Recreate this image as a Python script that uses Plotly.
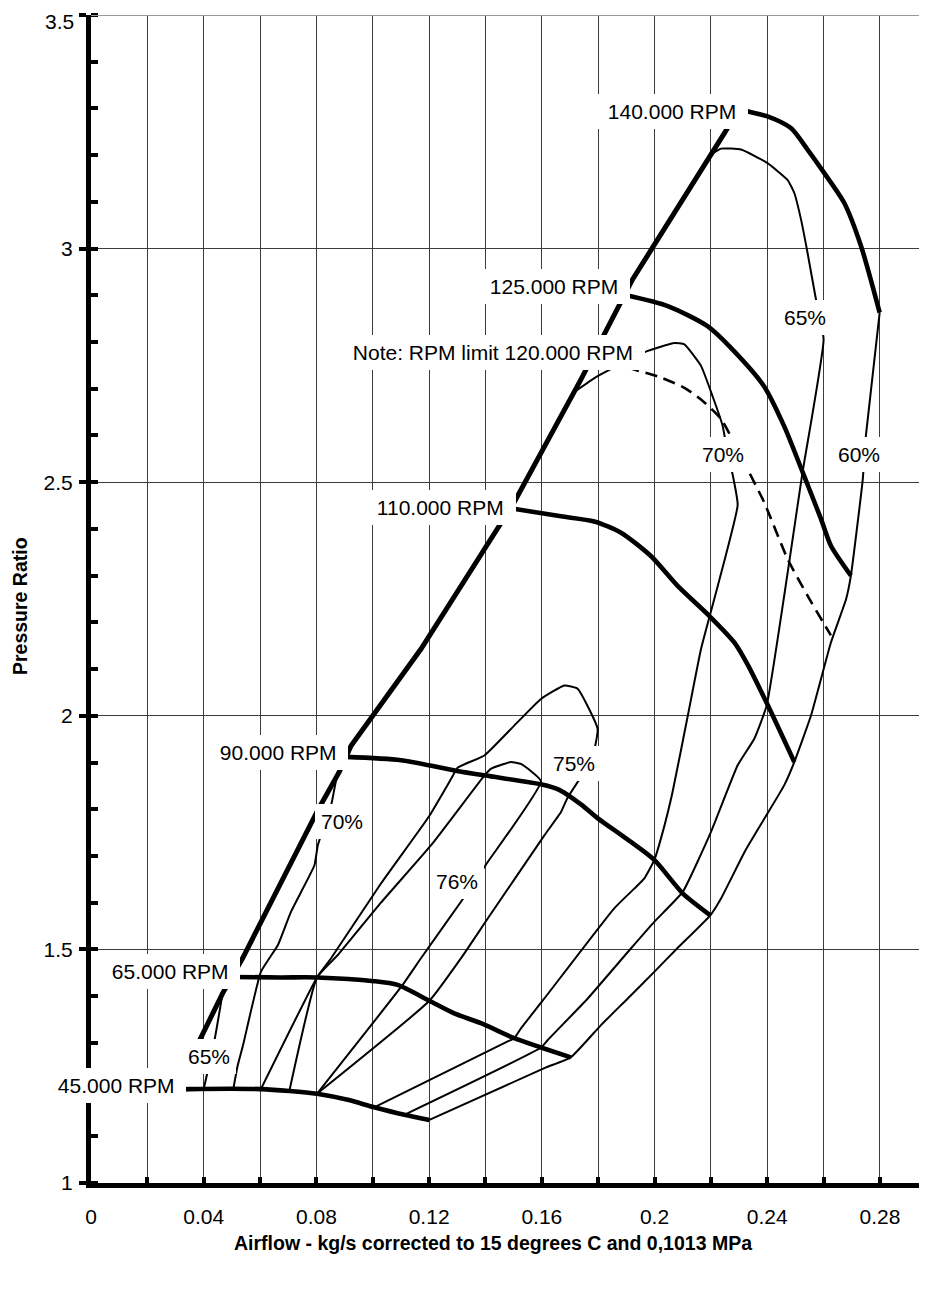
import plotly.graph_objects as go

# ---------------- data ----------------
# Speed lines (thick)
n45_x = [0.030, 0.0349, 0.0603, 0.0704, 0.0802, 0.0911, 0.1005, 0.1112, 0.1201]
n45_y = [1.200, 1.201, 1.201, 1.197, 1.191, 1.178, 1.162, 1.146, 1.135]

n65_x = [0.050, 0.0674, 0.0802, 0.1005, 0.1088, 0.1201, 0.1289, 0.1384, 0.1502, 0.1597, 0.1703]
n65_y = [1.441, 1.440, 1.440, 1.432, 1.424, 1.390, 1.363, 1.342, 1.310, 1.290, 1.269]

n90_x = [0.0905, 0.110, 0.130, 0.140, 0.160, 0.166, 0.174, 0.180, 0.190, 0.200, 0.210, 0.2198]
n90_y = [1.912, 1.905, 1.882, 1.872, 1.853, 1.842, 1.810, 1.780, 1.737, 1.691, 1.620, 1.573]

n110_x = [0.150, 0.1668, 0.1786, 0.1881, 0.1987, 0.2082, 0.2194, 0.2283, 0.233, 0.240, 0.2496]
n110_y = [2.443, 2.427, 2.416, 2.392, 2.342, 2.278, 2.214, 2.157, 2.110, 2.025, 1.901]

n125_x = [0.190, 0.2047, 0.2188, 0.2283, 0.2389, 0.246, 0.2526, 0.2591, 0.2626, 0.2697]
n125_y = [2.900, 2.877, 2.834, 2.780, 2.705, 2.620, 2.521, 2.421, 2.364, 2.300]

n140_x = [0.230, 0.2336, 0.2401, 0.2484, 0.2543, 0.2602, 0.2673, 0.2733, 0.2799]
n140_y = [3.300, 3.293, 3.283, 3.258, 3.212, 3.162, 3.098, 3.005, 2.863]

# RPM limit line (dashed)
lim120_x = [0.1775, 0.1798, 0.1869, 0.1928, 0.2023, 0.2106, 0.2165, 0.2236, 0.2318, 0.2389, 0.2472, 0.2543, 0.2626]
lim120_y = [2.770, 2.766, 2.752, 2.741, 2.724, 2.702, 2.677, 2.635, 2.542, 2.457, 2.336, 2.257, 2.172]

# Surge line (thick)
surge_x = [0.030, 0.039, 0.0467, 0.0538, 0.0805, 0.0881, 0.0923, 0.1171, 0.1372, 0.150,
           0.1739, 0.1922, 0.2248, 0.230]
surge_y = [1.20, 1.31, 1.406, 1.481, 1.798, 1.88, 1.936, 2.143, 2.335, 2.455,
           2.72, 2.934, 3.247, 3.30]

# Efficiency contours (thin); None separates pieces that run along the surge line
eff76_x = [0.0704, 0.0802, 0.0876, 0.1029, 0.1207, 0.1396, 0.142, 0.149, 0.1526, 0.1597,
           0.1408, 0.1313, 0.1171, 0.1106, 0.0802]
eff76_y = [1.197, 1.440, 1.488, 1.600, 1.723, 1.872, 1.887, 1.901, 1.897, 1.860,
           1.687, 1.602, 1.481, 1.424, 1.191]

eff75_x = [0.0603, 0.0802, 0.0852, 0.1029, 0.120, 0.1278, 0.1301, 0.1396, 0.1502, 0.1597, 0.168,
           0.1727, 0.1798, 0.1775, 0.1727, 0.169, 0.1668, 0.1609, 0.1408, 0.1313, 0.1201, 0.0802]
eff75_y = [1.201, 1.440, 1.481, 1.641, 1.785, 1.865, 1.889, 1.915, 1.979, 2.036, 2.065,
           2.058, 1.972, 1.900, 1.858, 1.823, 1.794, 1.744, 1.566, 1.481, 1.390, 1.191]

eff70_x = [0.0505, 0.052, 0.054, 0.0603, 0.0663, 0.071, 0.0793, 0.0805, 0.0852, 0.0875, None,
           0.1715, 0.1798, 0.1976, 0.207, 0.2106, 0.2165, 0.2206, 0.2242, 0.226, 0.2277, 0.2295,
           0.2212, 0.2165, 0.2118, 0.2064, 0.2029, 0.1999, 0.1964, 0.1928, 0.1857, 0.1609,
           0.1526, 0.1502, 0.1479, 0.1005]
eff70_y = [1.201, 1.25, 1.296, 1.452, 1.509, 1.581, 1.680, 1.723, 1.808, 1.88, None,
           2.693, 2.727, 2.781, 2.798, 2.795, 2.749, 2.684, 2.620, 2.560, 2.517, 2.451,
           2.25, 2.143, 2.0, 1.837, 1.751, 1.691, 1.652, 1.630, 1.588, 1.395,
           1.331, 1.310, 1.303, 1.162]

eff65_x = [0.040, 0.044, 0.0467, None,
           0.220, 0.2236, 0.2307, 0.2401, 0.2472, 0.2496, 0.252, 0.2543, 0.2573, 0.260, 0.2525,
           0.2398, 0.2354, 0.2295, 0.220, 0.210, 0.1999, 0.1916, 0.1763, 0.1621, 0.1597, 0.1112]
eff65_y = [1.201, 1.311, 1.406, None,
           3.201, 3.214, 3.212, 3.183, 3.147, 3.119, 3.062, 2.991, 2.891, 2.806, 2.520,
           2.022, 1.951, 1.894, 1.751, 1.623, 1.559, 1.502, 1.395, 1.306, 1.290, 1.146]

eff60_x = [0.1201, 0.1609, 0.1703, 0.181, 0.1905, 0.1999, 0.208, 0.2198, 0.2236, 0.232, 0.239,
           0.246, 0.2496, 0.2555, 0.2626, 0.268, 0.2697, 0.2739, 0.275, 0.2799]
eff60_y = [1.135, 1.246, 1.269, 1.338, 1.395, 1.452, 1.502, 1.573, 1.609, 1.709, 1.780,
           1.851, 1.901, 2.000, 2.157, 2.250, 2.300, 2.506, 2.599, 2.863]

# Labels on the map
label_text = ["140.000 RPM", "125.000 RPM", "Note: RPM limit 120.000 RPM", "110.000 RPM",
              "90.000 RPM", "65.000 RPM", "45.000 RPM", "65%", "70%", "76%", "75%",
              "65%", "70%", "60%"]
label_x = [0.2061, 0.1643, 0.1426, 0.1239, 0.0665, 0.0280, 0.0088, 0.0417, 0.0891, 0.1298,
           0.1715, 0.2535, 0.2242, 0.2724]
label_y = [3.293, 2.919, 2.777, 2.446, 1.921, 1.452, 1.208, 1.271, 1.773, 1.645,
           1.897, 2.852, 2.560, 2.560]

# Axis ticks
y_tickvals = [1, 1.5, 2, 2.5, 3, 3.5]
y_ticktext = ["1", "1.5", "2", "2.5", "3", ""]   # "3.5" is placed as a separate text (edge of page)
y_top_label = "3.5"

x_title = "Airflow - kg/s corrected to 15 degrees C and 0,1013 MPa"
y_title = "Pressure Ratio"

FONT = "Liberation Sans, Arial, sans-serif"
NBSP = "\u00a0"

# ---------------- figure ----------------
fig = go.Figure()


def add_line(x, y, width, dash=None, shape="linear", smoothing=None):
    line = dict(color="black", width=width, shape=shape)
    if dash:
        line["dash"] = dash
    if smoothing is not None:
        line["smoothing"] = smoothing
    fig.add_trace(go.Scatter(x=x, y=y, mode="lines", line=line, hoverinfo="skip",
                             showlegend=False, connectgaps=False))


for ex, ey in [(eff76_x, eff76_y), (eff75_x, eff75_y), (eff70_x, eff70_y),
               (eff65_x, eff65_y), (eff60_x, eff60_y)]:
    add_line(ex, ey, 2.0, shape="spline", smoothing=0.4)

add_line(lim120_x, lim120_y, 2.6, dash="12px,7px", shape="spline", smoothing=0.6)

for sx, sy in [(n45_x, n45_y), (n65_x, n65_y), (n90_x, n90_y), (n110_x, n110_y),
               (n125_x, n125_y), (n140_x, n140_y)]:
    add_line(sx, sy, 4.6, shape="spline", smoothing=0.7)

add_line(surge_x, surge_y, 5.0)

# invisible helper trace so the overlaying axis (inside major ticks) is drawn
fig.add_trace(go.Scatter(x=[None], y=[None], yaxis="y2", mode="lines",
                         showlegend=False, hoverinfo="skip"))

for t, lx, ly in zip(label_text, label_x, label_y):
    shown = (NBSP + t + NBSP) if "RPM" in t else t
    fig.add_annotation(x=lx, y=ly, xref="x", yref="y", text=shown, showarrow=False,
                       font=dict(family=FONT, size=21, color="black"),
                       bgcolor="white", borderpad=6, borderwidth=0)

# top y tick label, nudged just inside the page so it is not clipped
fig.add_annotation(x=-0.0205, y=0.9948, xref="paper", yref="paper", text=y_top_label,
                   showarrow=False, xanchor="right", yanchor="middle",
                   font=dict(family=FONT, size=21, color="black"), borderpad=0, borderwidth=0)

fig.add_annotation(x=0.4803, y=-0.0514, xref="paper", yref="paper", text="<b>" + x_title + "</b>",
                   showarrow=False, xanchor="center", yanchor="middle",
                   font=dict(family=FONT, size=19.5, color="black"))
fig.add_annotation(x=-0.0849, y=0.494, xref="paper", yref="paper", text="<b>" + y_title + "</b>",
                   showarrow=False, xanchor="center", yanchor="middle", textangle=-90,
                   font=dict(family=FONT, size=19.5, color="black"))

# top border gridline (grey)
fig.add_shape(type="line", xref="paper", yref="y", x0=0, x1=1, y0=3.5, y1=3.5,
              line=dict(color="#9a9a9a", width=2), layer="above")

GRID = "#3c3c3c"
# the page body adds an 8px margin; figure size and margins compensate for it
fig.update_layout(
    width=919, height=1270,
    margin=dict(l=83, r=0, t=7, b=95),
    paper_bgcolor="white", plot_bgcolor="white",
    font=dict(family=FONT, size=21, color="black"),
    xaxis=dict(range=[0, 0.2967], tick0=0, dtick=0.04, showgrid=True, gridcolor=GRID, gridwidth=1,
               ticks="inside", ticklen=6, tickwidth=4, tickcolor="black",
               showline=True, linewidth=5, linecolor="black", zeroline=False,
               tickfont=dict(size=21), ticklabelstandoff=11, automargin=False,
               minor=dict(tick0=0, dtick=0.02, ticks="inside", ticklen=6, tickwidth=4,
                          tickcolor="black", showgrid=True, gridcolor=GRID, gridwidth=1)),
    yaxis=dict(range=[1, 3.5], tickmode="array", tickvals=y_tickvals, ticktext=y_ticktext,
               showgrid=True, gridcolor=GRID, gridwidth=1,
               ticks="outside", ticklen=7, tickwidth=4, tickcolor="black",
               showline=True, linewidth=5, linecolor="black", zeroline=False,
               tickfont=dict(size=21), ticklabelstandoff=2, automargin=False,
               minor=dict(tick0=1, dtick=0.1, ticks="inside", ticklen=7, tickwidth=4,
                          tickcolor="black", showgrid=False)),
    yaxis2=dict(range=[1, 3.5], overlaying="y", side="left", tick0=1, dtick=0.5,
                showgrid=False, zeroline=False, showline=False, showticklabels=False,
                ticks="inside", ticklen=7, tickwidth=4, tickcolor="black", automargin=False),
)

fig.write_html("out.html")
